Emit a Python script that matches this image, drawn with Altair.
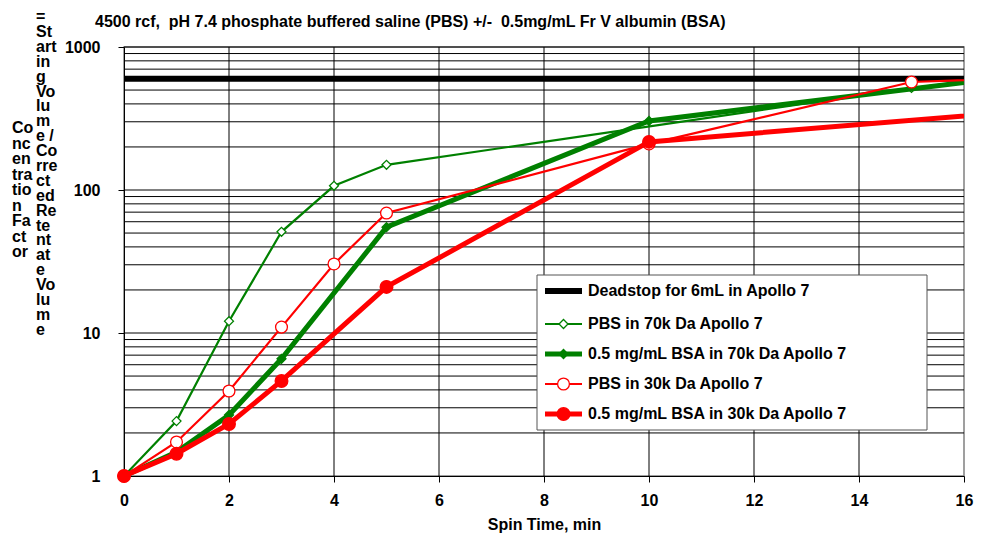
import altair as alt
import pandas as pd

FONT = "Liberation Sans"

# ---- data ----
time_pbs70 = [0, 1, 2, 3, 4, 5, 15, 20]
cf_pbs70 = [1, 2.42, 12.1, 51, 107, 150, 517, 838]

time_bsa70 = [0, 1, 2, 3, 5, 10, 20]
cf_bsa70 = [1, 1.47, 2.67, 6.6, 55, 304, 855]

time_pbs30 = [0, 1, 2, 3, 4, 5, 10, 15, 20]
cf_pbs30 = [1, 1.73, 3.93, 11.0, 30.4, 69, 210, 569, 668]

time_bsa30 = [0, 1, 2, 3, 5, 10, 20]
cf_bsa30 = [1, 1.43, 2.31, 4.62, 21, 217, 435]

time_dead = [0, 16]
cf_dead = [600, 600]

x_ticks = [0, 2, 4, 6, 8, 10, 12, 14, 16]
y_ticks = [1, 10, 100, 1000]
y_grid = [2, 3, 4, 5, 6, 7, 8, 9, 10, 20, 30, 40, 50, 60, 70, 80, 90,
          100, 200, 300, 400, 500, 600, 700, 800, 900, 1000]
x_grid = [2, 4, 6, 8, 10, 12, 14]

legend_labels = ["Deadstop for 6mL in Apollo 7", "PBS in 70k Da Apollo 7",
                 "0.5 mg/mL BSA in 70k Da Apollo 7", "PBS in 30k Da Apollo 7",
                 "0.5 mg/mL BSA in 30k Da Apollo 7"]

title_text = "4500 rcf,\u00a0 pH 7.4 phosphate buffered saline (PBS) +/-\u00a0 0.5mg/mL Fr V albumin (BSA)"
ytitle_col1 = ["Co", "nc", "en", "tra", "tio", "n", "Fa", "ct", "or"]
ytitle_col2 = ["=", "St", "art", "in", "g", "Vo", "lu", "m", "e /", "Co", "rre", "ct",
               "ed", "Re", "te", "nt", "at", "e", "Vo", "lu", "m", "e"]

# ---- layout ----
W, H = 840, 429
GREEN = "#008000"
RED = "#FF0000"

x_scale = alt.Scale(domain=[0, 16], nice=False, zero=False)
y_scale = alt.Scale(type="log", domain=[1, 1000], nice=False)

x_axis = alt.Axis(values=x_ticks, title="Spin Time, min", grid=False, tickSize=6,
                  labelPadding=10, titlePadding=8, labelFontSize=16, titleFontSize=16,
                  labelFontWeight="bold", titleFontWeight="bold", labelFont=FONT,
                  titleFont=FONT, domainColor="black", tickColor="black",
                  labelColor="black", titleColor="black", labelFlush=False)
y_axis = alt.Axis(values=y_ticks, format="d", title=None, grid=False, tickSize=6,
                  labelPadding=18, labelFontSize=16, labelFontWeight="bold",
                  labelFont=FONT, domainColor="black", tickColor="black",
                  labelColor="black", labelFlush=False)


def X(field="t"):
    return alt.X(f"{field}:Q", scale=x_scale, axis=x_axis)


def Y(field="v"):
    return alt.Y(f"{field}:Q", scale=y_scale, axis=y_axis)


def frame(t, v):
    return pd.DataFrame({"t": t, "v": v})


one = pd.DataFrame({"a": [0]})

grid_h = alt.Chart(pd.DataFrame({"v": y_grid})).mark_rule(
    color="black", strokeWidth=1).encode(y=Y(), x=alt.value(0), x2=alt.value(W))
grid_v = alt.Chart(pd.DataFrame({"t": x_grid})).mark_rule(
    color="black", strokeWidth=1).encode(x=X(), y=alt.value(0), y2=alt.value(H))

dead = alt.Chart(frame(time_dead, cf_dead)).mark_line(
    color="black", strokeWidth=6).encode(x=X(), y=Y())

series = [
    (time_pbs70, cf_pbs70, GREEN, 2.2, "diamond", False, 80),
    (time_bsa70, cf_bsa70, GREEN, 5, "diamond", True, 80),
    (time_pbs30, cf_pbs30, RED, 2.2, "circle", False, 140),
    (time_bsa30, cf_bsa30, RED, 5, "circle", True, 160),
]

layers = [grid_h, grid_v, dead]
for t, v, col, sw, shape, filled, size in series:
    df = frame(t, v)
    line = alt.Chart(df).mark_line(color=col, strokeWidth=sw, clip=True).encode(x=X(), y=Y())
    pt = alt.Chart(df).mark_point(
        shape=shape, filled=True, fill=(col if filled else "white"), stroke=col,
        strokeWidth=1.3, size=size, opacity=1).encode(x=X(), y=Y()).transform_filter("datum.t <= 16")
    layers += [line, pt]

# ---- legend box ----
LX0, LX1, LY0, LY1 = 413, 803, 228, 383
rows_y = [244, 277, 307, 337, 367]
layers.append(alt.Chart(one).mark_rect(fill="white", stroke="#555", strokeWidth=1).encode(
    x=alt.value(LX0), x2=alt.value(LX1), y=alt.value(LY0), y2=alt.value(LY1)))
leg_specs = [("black", 6, None, False, 0)] + [(c, sw, sh, f, s) for _, _, c, sw, sh, f, s in series]
for (col, sw, shape, filled, size), ry, lab in zip(leg_specs, rows_y, legend_labels):
    layers.append(alt.Chart(one).mark_rule(color=col, strokeWidth=sw).encode(
        x=alt.value(421), x2=alt.value(458), y=alt.value(ry)))
    if shape:
        layers.append(alt.Chart(one).mark_point(
            shape=shape, filled=True, fill=(col if filled else "white"), stroke=col,
            strokeWidth=1.3, size=size, opacity=1).encode(x=alt.value(439.5), y=alt.value(ry)))
    layers.append(alt.Chart(one).mark_text(
        text=lab, align="left", baseline="middle", font=FONT, fontSize=16,
        fontWeight="bold", color="black").encode(x=alt.value(464), y=alt.value(ry)))

# ---- titles ----
layers.append(alt.Chart(one).mark_text(
    text=title_text, align="left", baseline="top", font=FONT, fontSize=16,
    fontWeight="bold", color="black").encode(x=alt.value(-29), y=alt.value(-33)))
layers.append(alt.Chart(one).mark_text(
    text=ytitle_col1, align="left", baseline="top", font=FONT, fontSize=16,
    fontWeight="bold", color="black", lineHeight=15.5).encode(x=alt.value(-112), y=alt.value(73)))
layers.append(alt.Chart(one).mark_text(
    text=ytitle_col2, align="left", baseline="top", font=FONT, fontSize=16,
    fontWeight="bold", color="black", lineHeight=14.9).encode(x=alt.value(-88), y=alt.value(-38)))

chart = alt.layer(*layers).properties(
    width=W, height=H,
    padding={"left": 116, "top": 39, "right": 10, "bottom": 60},
    autosize=alt.AutoSizeParams(type="none"),
).configure_view(stroke="#808080", strokeWidth=1.5)

chart.save("out.html", embed_options={"renderer": "svg", "actions": False})
